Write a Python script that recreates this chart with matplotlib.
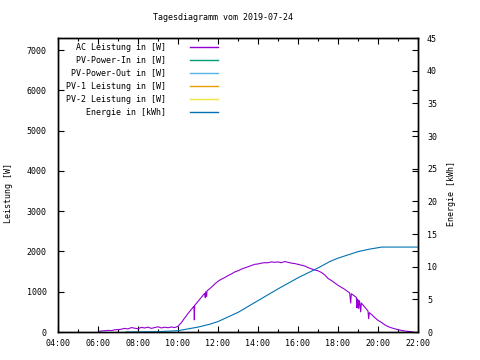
import numpy as np
import matplotlib
matplotlib.use("Agg")
import matplotlib.pyplot as plt

# AC power [W] (time "HH:MM", value)
ac_times = [
    "06:05", "06:10", "06:20", "06:30", "06:40", "06:50", "07:00", "07:10", "07:20", "07:30",
    "07:40", "07:50", "08:00", "08:10", "08:20", "08:30", "08:40", "08:50", "09:00", "09:10",
    "09:20", "09:30", "09:40", "09:50", "10:00", "10:05", "10:10", "10:15", "10:20", "10:25",
    "10:30", "10:35", "10:40", "10:45", "10:48", "10:49", "10:50", "10:55", "11:00", "11:10",
    "11:20", "11:22", "11:23", "11:26", "11:27", "11:30", "11:40", "11:50", "12:00", "12:10",
    "12:20", "12:30", "12:40", "12:50", "13:00", "13:10", "13:20", "13:30", "13:40", "13:50",
    "14:00", "14:10", "14:20", "14:30", "14:40", "14:50", "15:00", "15:10", "15:20", "15:30",
    "15:40", "15:50", "16:00", "16:10", "16:20", "16:30", "16:40", "16:50", "17:00", "17:10",
    "17:20", "17:30", "17:40", "17:50", "18:00", "18:10", "18:20", "18:30", "18:35", "18:38",
    "18:40", "18:50", "18:55", "18:57", "18:58", "19:00", "19:02", "19:03", "19:05", "19:08",
    "19:10", "19:20", "19:30", "19:32", "19:34", "19:40", "19:50", "20:00", "20:10", "20:20",
    "20:30", "20:40", "20:50", "21:00", "21:10", "21:20", "21:30", "21:40", "21:45",
]
ac_power = [
    20, 25, 30, 40, 35, 55, 60, 70, 90, 75,
    110, 95, 80, 115, 100, 120, 90, 110, 130, 100,
    120, 105, 125, 110, 140, 190, 230, 290, 350, 400,
    460, 510, 560, 610, 640, 300, 660, 710, 760, 860,
    960, 850, 1000, 880, 1020, 1040, 1110, 1190, 1260, 1310,
    1350, 1400, 1440, 1490, 1520, 1560, 1590, 1620, 1650, 1680,
    1690, 1710, 1720, 1720, 1740, 1730, 1740, 1720, 1750, 1730,
    1710, 1700, 1680, 1660, 1640, 1600, 1570, 1540, 1520, 1480,
    1420, 1330, 1280, 1220, 1160, 1110, 1060, 1000, 970, 720,
    950, 890, 860, 600, 820, 790, 590, 780, 750, 500,
    720, 620, 520, 330, 480, 440, 360, 290, 240, 180,
    135, 105, 80, 60, 40, 25, 15, 8, 0,
]

# daily energy [kWh]
en_times = ["07:24", "09:00", "10:00", "11:00", "11:36", "12:00", "13:00", "14:00", "15:00",
            "16:00", "17:00", "17:36", "18:00", "18:36", "19:00", "19:36", "20:00", "20:12", "22:00"]
en_kwh = [0.0, 0.05, 0.2, 0.75, 1.2, 1.6, 3.0, 4.8, 6.6,
          8.3, 9.8, 10.8, 11.3, 11.9, 12.3, 12.7, 12.9, 13.0, 13.0]

legend_labels = ["AC Leistung in [W]", "PV-Power-In in [W]", "PV-Power-Out in [W]",
                 "PV-1 Leistung in [W]", "PV-2 Leistung in [W]", "Energie in [kWh]"]
legend_colors = ["#9400d3", "#009e73", "#56b4e9", "#e69f00", "#f0e442", "#0072b2"]

xtick_labels = ["04:00", "06:00", "08:00", "10:00", "12:00", "14:00", "16:00", "18:00", "20:00", "22:00"]


def hours(ts):
    return np.array([int(t[:2]) + int(t[3:]) / 60.0 for t in ts])


plt.rcParams['font.family'] = ['DejaVu Sans Mono']
fs = 6

fig = plt.figure(figsize=(4.8, 3.6), dpi=100)
ax = fig.add_axes([58 / 480, 28 / 360, 360 / 480, 294 / 360])
ax2 = ax.twinx()

ax.plot(hours(ac_times), ac_power, color=legend_colors[0], lw=0.8)
ax2.plot(hours(en_times), en_kwh, color=legend_colors[5], lw=0.8)

ax.set_xlim(4, 22)
ax.set_ylim(0, 7300)
ax2.set_ylim(0, 45)

ax.set_xticks(hours(xtick_labels))
ax.set_xticklabels(xtick_labels, fontsize=fs)
ax.set_xticks(np.arange(5, 22, 2), minor=True)
ax.set_yticks(np.arange(0, 7001, 1000))
ax.set_yticklabels([str(v) for v in range(0, 7001, 1000)], fontsize=fs)
ax2.set_yticks(np.arange(0, 46, 5))
ax2.set_yticklabels([str(v) for v in range(0, 46, 5)], fontsize=fs)

ax.tick_params(axis='x', which='major', direction='in', length=4, width=0.8, top=True, pad=5)
ax.tick_params(axis='x', which='minor', direction='in', length=2, width=0.8, top=True)
ax.tick_params(axis='y', direction='in', length=4, width=0.8, right=True, pad=8)
ax2.tick_params(axis='y', direction='in', length=4, width=0.8, pad=6.5)

for a in (ax, ax2):
    for s in a.spines.values():
        s.set_linewidth(1.0)

fig.text(223 / 480, 1 - 18 / 360, "Tagesdiagramm vom 2019-07-24", fontsize=fs,
         ha='center', va='center')
fig.text(9 / 480, 1 - 193 / 360, "Leistung [W]", fontsize=fs, rotation=90,
         ha='center', va='center')
fig.text(452 / 480, 1 - 194 / 360, "Energie [kWh]", fontsize=fs, rotation=90,
         ha='center', va='center')

# legend drawn by hand: text right aligned, sample line to the right
for i, (lab, col) in enumerate(zip(legend_labels, legend_colors)):
    yy = 0.969 - i * 0.0442
    ax.text(0.30, yy, lab, transform=ax.transAxes, fontsize=fs, ha='right', va='center')
    ax.plot([0.367, 0.444], [yy, yy], transform=ax.transAxes, color=col, lw=1.0)

fig.savefig("out.png", dpi=100)
